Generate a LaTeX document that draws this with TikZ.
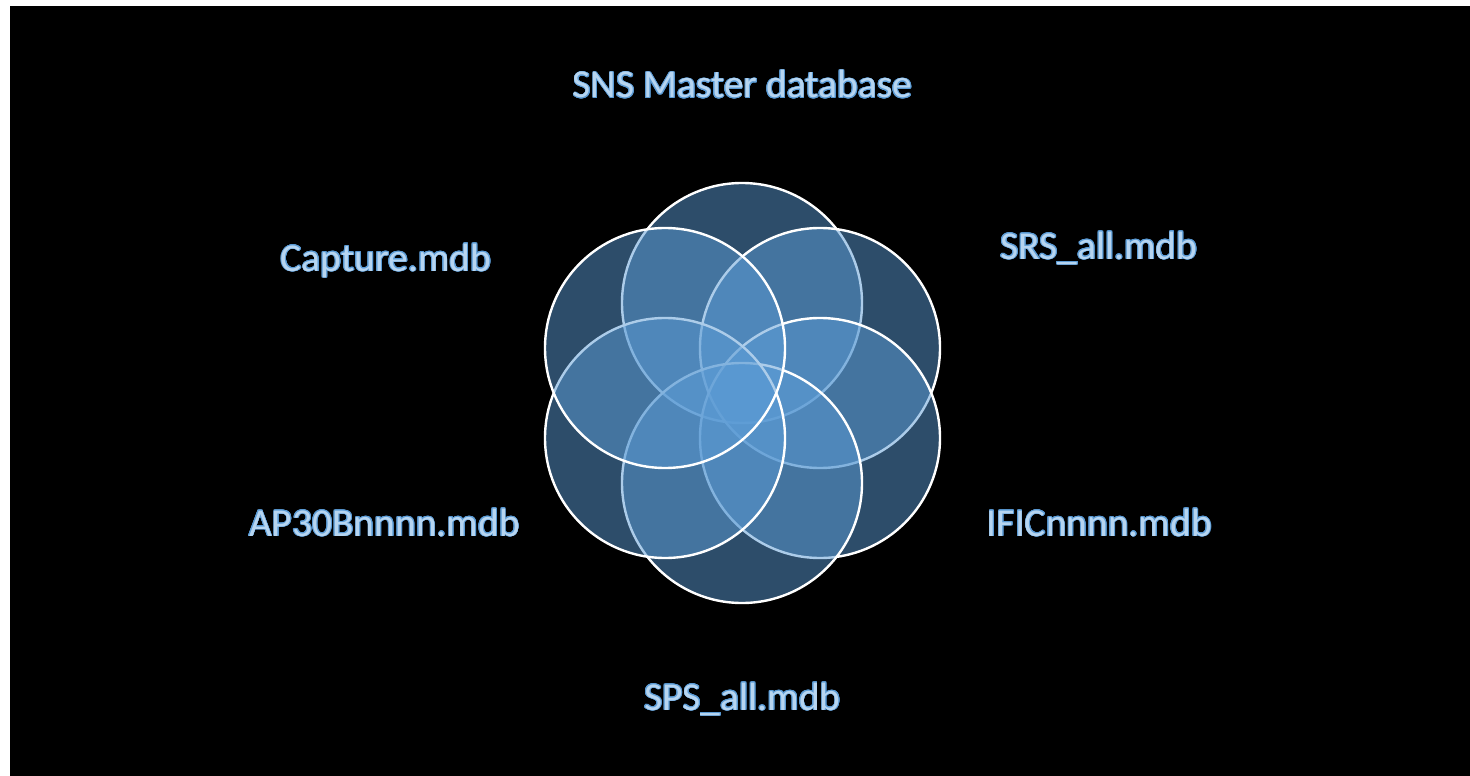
\documentclass[tikz,border=0pt]{standalone}
\usepackage{fontspec}
\setmainfont{Carlito}
\usepackage{contour}
\contourlength{0.8pt}
\definecolor{petal}{HTML}{5B9BD5}
\definecolor{labfill}{HTML}{B7D5F0}
\definecolor{labglow}{HTML}{5B9BD5}
\begin{document}
\begin{tikzpicture}[x=1pt,y=-1pt,
  petalc/.style={circle,minimum size=240pt,inner sep=0pt,fill=petal,fill opacity=0.5,draw=white,draw opacity=1,line width=2.4pt},
  lab/.style={anchor=base,inner sep=0pt,text=labfill,font=\fontsize{39.5}{46}\selectfont}]
\useasboundingbox (0,0) rectangle (1470,776);
\fill[white] (0,0) rectangle (1470,776);
\fill[black] (10,6) rectangle (1470,776);
% circles, drawn in stacking order
\node[petalc] (ctop) at (742,303) {};
\node[petalc] (cur)  at (820,348) {};
\node[petalc] (clr)  at (820,438) {};
\node[petalc] (cbot) at (742,483) {};
\node[petalc] (cll)  at (665,438) {};
\node[petalc] (cul)  at (665,348) {};
% labels
\node[lab] (sns) at (742.5,98) {\contour{labglow}{SNS Master database}};
\node[lab] (cap) at (386,271) {\contour{labglow}{Capture.mdb}};
\node[lab] (srs) at (1099,259) {\contour{labglow}{SRS\_all.mdb}};
\node[lab] (ap)  at (384.5,536) {\contour{labglow}{AP30Bnnnn.mdb}};
\node[lab] (ific) at (1099.5,536) {\contour{labglow}{IFICnnnn.mdb}};
\node[lab] (sps) at (742.5,710) {\contour{labglow}{SPS\_all.mdb}};
\end{tikzpicture}
\end{document}
